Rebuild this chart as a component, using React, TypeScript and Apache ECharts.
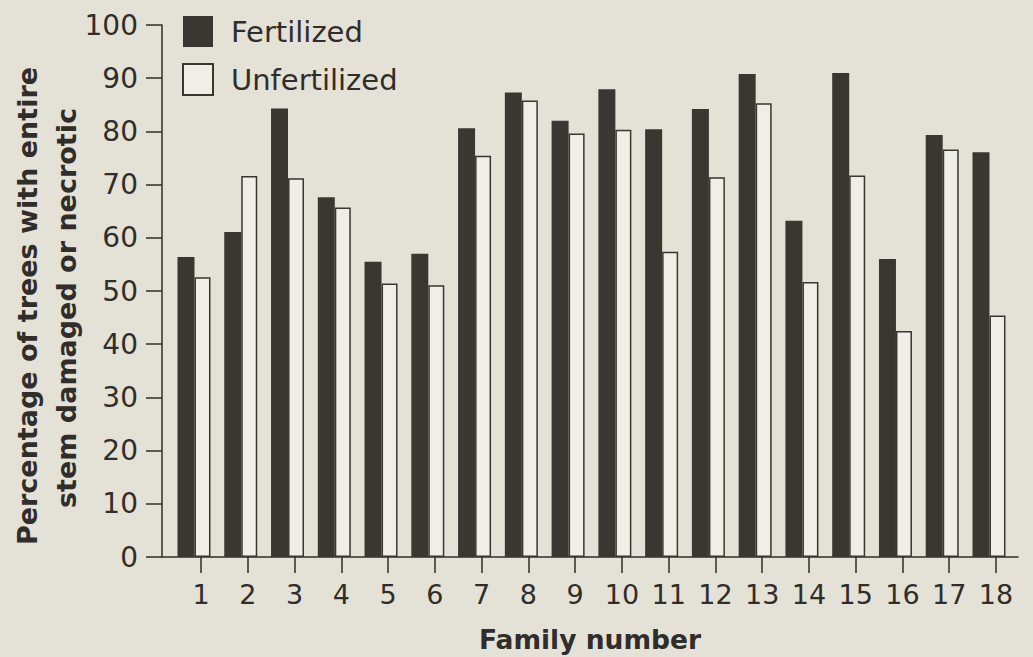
import React, { useEffect, useRef } from "react";
import * as echarts from "echarts";

const families = [1, 2, 3, 4, 5, 6, 7, 8, 9, 10, 11, 12, 13, 14, 15, 16, 17, 18];
const fertilized = [56.4, 61.1, 84.3, 67.6, 55.5, 57.0, 80.6, 87.3, 82.0, 87.9, 80.4, 84.2, 90.8, 63.2, 91.0, 56.0, 79.3, 76.1];
const unfertilized = [52.6, 71.6, 71.2, 65.7, 51.4, 51.1, 75.4, 85.8, 79.6, 80.3, 57.4, 71.4, 85.3, 51.7, 71.7, 42.5, 76.6, 45.4];
const seriesNames = ["Fertilized", "Unfertilized"];
const yTitleLines = ["Percentage of trees with entire", "stem damaged or necrotic"];
const xTitle = "Family number";

const INK = "#302d2a";
const DARK = "#3a3632";
const PAPER = "#e4e2d6";
const LIGHT = "#efeee7";
const FONT = '"DejaVu Sans", sans-serif';

export default function App() {
  const ref = useRef<HTMLDivElement>(null);
  useEffect(() => {
    if (!ref.current) return;
    const chart = echarts.init(ref.current, undefined, { renderer: "svg" });
    chart.setOption({
      animation: false,
      backgroundColor: PAPER,
      grid: { left: 162, top: 25, width: 856, height: 532 },
      legend: {
        orient: "vertical",
        left: 177,
        top: 11,
        itemWidth: 30,
        itemHeight: 31,
        itemGap: 16,
        icon: "rect",
        data: seriesNames,
        textStyle: { fontSize: 29, fontFamily: FONT, color: INK, padding: [0, 0, 0, 13] },
      },
      xAxis: [
        {
          type: "value",
          position: "bottom",
          min: 0.166,
          max: 18.4704,
          axisLine: { show: true, onZero: false, lineStyle: { color: INK, width: 1.5 } },
          axisTick: { show: true, customValues: families, length: 16, lineStyle: { color: INK, width: 1.5 } },
          axisLabel: { customValues: families, margin: 24, fontSize: 27, fontFamily: FONT, color: INK },
          splitLine: { show: false },
        },
        {
          type: "value",
          show: false,
          min: 0.316,
          max: 18.6204,
          splitLine: { show: false },
        },
      ],
      yAxis: {
        type: "value",
        min: 0,
        max: 100,
        interval: 10,
        axisLine: { show: true, onZero: false, lineStyle: { color: INK, width: 1.5 } },
        axisTick: { show: true, length: 16, lineStyle: { color: INK, width: 1.5 } },
        axisLabel: { margin: 24, fontSize: 28, fontFamily: FONT, color: INK },
        splitLine: { show: false },
      },
      series: [
        {
          name: seriesNames[0],
          type: "bar",
          xAxisIndex: 1,
          barWidth: 17,
          barGap: "0%",
          data: families.map((f, i) => [f, fertilized[i]]),
          itemStyle: { color: DARK },
        },
        {
          name: seriesNames[1],
          type: "bar",
          xAxisIndex: 1,
          barWidth: 16,
          barGap: "0%",
          data: families.map((f, i) => [f, unfertilized[i]]),
          itemStyle: { color: LIGHT, borderColor: DARK, borderWidth: 1.5 },
        },
      ],
      graphic: [
        {
          type: "text",
          x: 27,
          y: 306,
          rotation: Math.PI / 2,
          style: { text: yTitleLines[0], fontSize: 27, fontWeight: "bold", fontFamily: FONT, fill: INK, align: "center", verticalAlign: "middle" },
        },
        {
          type: "text",
          x: 66,
          y: 308,
          rotation: Math.PI / 2,
          style: { text: yTitleLines[1], fontSize: 27, fontWeight: "bold", fontFamily: FONT, fill: INK, align: "center", verticalAlign: "middle" },
        },
        {
          type: "text",
          x: 590,
          y: 639,
          style: { text: xTitle, fontSize: 26.5, fontWeight: "bold", fontFamily: FONT, fill: INK, align: "center", verticalAlign: "middle" },
        },
      ],
    });
    return () => chart.dispose();
  }, []);
  return <div ref={ref} style={{ position: "fixed", left: 0, top: 0, width: 1033, height: 657 }} />;
}
